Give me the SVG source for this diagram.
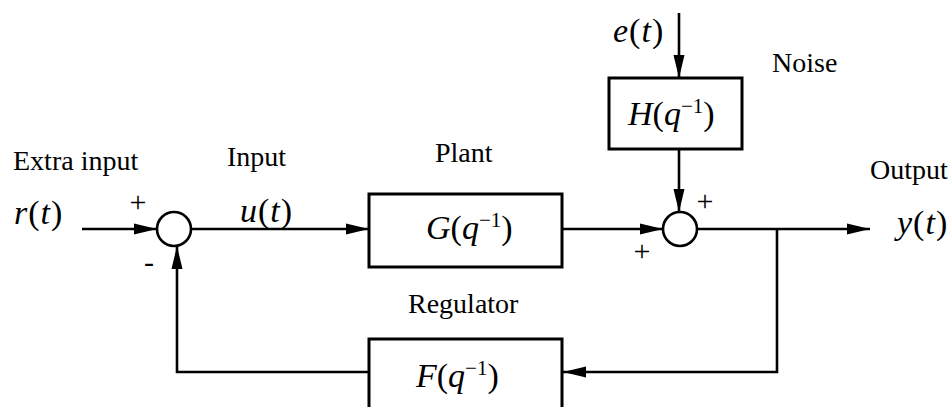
<svg xmlns="http://www.w3.org/2000/svg" width="951" height="407" viewBox="0 0 951 407">
<style>
.lbl{font-family:"Liberation Serif","Times New Roman",serif;font-size:28px;fill:#000}
.sgn{font-family:"Liberation Serif","Times New Roman",serif;font-size:30px;fill:#000;text-anchor:middle}
.m{font-family:"Liberation Serif","Times New Roman",serif;font-size:34px;fill:#000}
.i{font-style:italic}
.sup{font-size:21px}
.box{fill:#fff;stroke:#000;stroke-width:3}
.sum{fill:#fff;stroke:#000;stroke-width:2.6}
.ln{fill:none;stroke:#000;stroke-width:2.6}
</style>
<defs>
<marker id="ah" markerUnits="userSpaceOnUse" markerWidth="24" markerHeight="12" refX="23" refY="6" orient="auto" viewBox="0 0 24 12">
<path d="M0,0.5 L23,6 L0,11.5 Z" fill="#000"/>
</marker>
</defs>
<g id="connectors">
<line class="ln" x1="82" y1="229" x2="157" y2="229" marker-end="url(#ah)"/>
<line class="ln" x1="191" y1="229" x2="369" y2="229" marker-end="url(#ah)"/>
<line class="ln" x1="562" y1="229" x2="663" y2="229" marker-end="url(#ah)"/>
<line class="ln" x1="679" y1="13" x2="679" y2="78" marker-end="url(#ah)"/>
<line class="ln" x1="679" y1="149" x2="679" y2="212" marker-end="url(#ah)"/>
<line class="ln" x1="696" y1="229" x2="870" y2="229" marker-end="url(#ah)"/>
<polyline class="ln" points="777,229 777,372 563,372" marker-end="url(#ah)"/>
<polyline class="ln" points="369,372 177,372 177,246" marker-end="url(#ah)"/>
</g>
<g id="sum1">
<circle class="sum" cx="174" cy="229" r="17"/>
<text class="sgn" x="138" y="212">+</text>
<text class="sgn" x="149" y="272">-</text>
</g>
<g id="sum2">
<circle class="sum" cx="680" cy="229" r="17"/>
<text class="sgn" x="705" y="211">+</text>
<text class="sgn" x="642" y="261">+</text>
</g>
<g id="plant">
<rect class="box" x="369" y="194" width="193" height="73"/>
<text class="m" x="426" y="239"><tspan class="i">G</tspan>(<tspan class="i">q</tspan><tspan class="sup" dy="-12">−1</tspan><tspan dy="12">)</tspan></text>
<text class="lbl" x="435" y="162">Plant</text>
</g>
<g id="noise">
<rect class="box" x="609" y="78" width="133" height="71"/>
<text class="m" x="628" y="125"><tspan class="i">H</tspan>(<tspan class="i">q</tspan><tspan class="sup" dy="-12">−1</tspan><tspan dy="12">)</tspan></text>
<text class="lbl" x="772" y="72">Noise</text>
</g>
<g id="regulator">
<rect class="box" x="369" y="339" width="193" height="90"/>
<text class="m" x="416" y="387"><tspan class="i">F</tspan>(<tspan class="i">q</tspan><tspan class="sup" dy="-12">−1</tspan><tspan dy="12">)</tspan></text>
<text class="lbl" x="408" y="313">Regulator</text>
</g>
<g id="extra-input">
<text class="lbl" x="13" y="170">Extra input</text>
<text class="m" x="14" y="224" letter-spacing="1"><tspan class="i">r</tspan>(<tspan class="i">t</tspan>)</text>
</g>
<g id="input">
<text class="lbl" x="227" y="166">Input</text>
<text class="m" x="240" y="222" letter-spacing="1"><tspan class="i">u</tspan>(<tspan class="i">t</tspan>)</text>
</g>
<g id="noise-input">
<text class="m" x="613" y="42" letter-spacing="1"><tspan class="i">e</tspan>(<tspan class="i">t</tspan>)</text>
</g>
<g id="output">
<text class="lbl" x="870" y="179">Output</text>
<text class="m" x="897" y="234" letter-spacing="1"><tspan class="i">y</tspan>(<tspan class="i">t</tspan>)</text>
</g>
</svg>
